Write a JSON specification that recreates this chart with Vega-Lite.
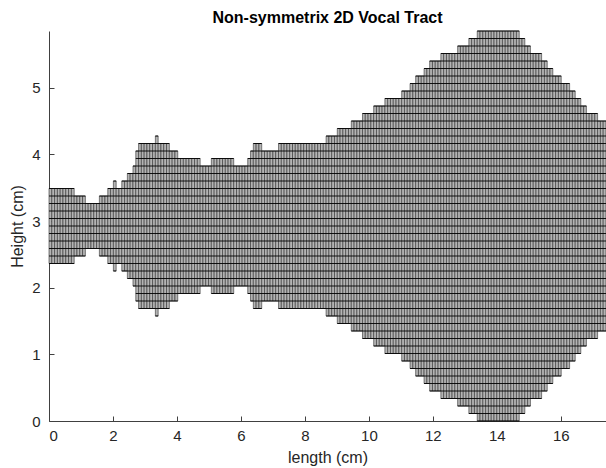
{
  "$schema": "https://vega.github.io/schema/vega-lite/v6.json",
  "width": 557,
  "height": 390,
  "autosize": {"type": "none"},
  "padding": {"left": 49, "top": 31, "right": 0, "bottom": 47},
  "background": "white",
  "title": {"text": "Non-symmetrix 2D Vocal Tract", "fontSize": 16, "fontWeight": "bold", "font": "Liberation Sans", "color": "#000000", "offset": 5, "anchor": "middle"},
  "config": {
    "view": {"stroke": null},
    "axis": {"grid": false, "domainColor": "#404040", "domainWidth": 1, "tickColor": "#404040", "tickSize": -5, "labelFont": "Liberation Sans", "labelFontSize": 15, "labelColor": "#262626", "titleFont": "Liberation Sans", "titleFontSize": 16, "titleFontWeight": "normal", "titleColor": "#262626"}
  },
  "datasets": {
    "columns": [
      {"x0":0,"x1":0.0875,"y0":2.3625,"y1":3.4875},
      {"x0":0.0875,"x1":0.175,"y0":2.3625,"y1":3.4875},
      {"x0":0.175,"x1":0.2625,"y0":2.3625,"y1":3.4875},
      {"x0":0.2625,"x1":0.35,"y0":2.3625,"y1":3.4875},
      {"x0":0.35,"x1":0.4375,"y0":2.3625,"y1":3.4875},
      {"x0":0.4375,"x1":0.525,"y0":2.3625,"y1":3.4875},
      {"x0":0.525,"x1":0.6125,"y0":2.3625,"y1":3.4875},
      {"x0":0.6125,"x1":0.7,"y0":2.3625,"y1":3.4875},
      {"x0":0.7,"x1":0.7875,"y0":2.3625,"y1":3.4875},
      {"x0":0.7875,"x1":0.875,"y0":2.475,"y1":3.375},
      {"x0":0.875,"x1":0.9625,"y0":2.475,"y1":3.375},
      {"x0":0.9625,"x1":1.05,"y0":2.475,"y1":3.375},
      {"x0":1.05,"x1":1.1375,"y0":2.475,"y1":3.375},
      {"x0":1.1375,"x1":1.225,"y0":2.5875,"y1":3.2625},
      {"x0":1.225,"x1":1.3125,"y0":2.5875,"y1":3.2625},
      {"x0":1.3125,"x1":1.4,"y0":2.5875,"y1":3.2625},
      {"x0":1.4,"x1":1.4875,"y0":2.5875,"y1":3.2625},
      {"x0":1.4875,"x1":1.575,"y0":2.5875,"y1":3.2625},
      {"x0":1.575,"x1":1.6625,"y0":2.475,"y1":3.375},
      {"x0":1.6625,"x1":1.75,"y0":2.475,"y1":3.375},
      {"x0":1.75,"x1":1.8375,"y0":2.475,"y1":3.375},
      {"x0":1.8375,"x1":1.925,"y0":2.3625,"y1":3.4875},
      {"x0":1.925,"x1":2.0125,"y0":2.3625,"y1":3.4875},
      {"x0":2.0125,"x1":2.1,"y0":2.25,"y1":3.6},
      {"x0":2.1,"x1":2.1875,"y0":2.3625,"y1":3.4875},
      {"x0":2.1875,"x1":2.275,"y0":2.3625,"y1":3.4875},
      {"x0":2.275,"x1":2.3625,"y0":2.25,"y1":3.6},
      {"x0":2.3625,"x1":2.45,"y0":2.25,"y1":3.6},
      {"x0":2.45,"x1":2.5375,"y0":2.1375,"y1":3.7125},
      {"x0":2.5375,"x1":2.625,"y0":2.1375,"y1":3.7125},
      {"x0":2.625,"x1":2.7125,"y0":2.025,"y1":3.825},
      {"x0":2.7125,"x1":2.8,"y0":1.8,"y1":4.05},
      {"x0":2.8,"x1":2.8875,"y0":1.6875,"y1":4.1625},
      {"x0":2.8875,"x1":2.975,"y0":1.6875,"y1":4.1625},
      {"x0":2.975,"x1":3.0625,"y0":1.6875,"y1":4.1625},
      {"x0":3.0625,"x1":3.15,"y0":1.6875,"y1":4.1625},
      {"x0":3.15,"x1":3.2375,"y0":1.6875,"y1":4.1625},
      {"x0":3.2375,"x1":3.325,"y0":1.6875,"y1":4.1625},
      {"x0":3.325,"x1":3.4125,"y0":1.575,"y1":4.275},
      {"x0":3.4125,"x1":3.5,"y0":1.6875,"y1":4.1625},
      {"x0":3.5,"x1":3.5875,"y0":1.6875,"y1":4.1625},
      {"x0":3.5875,"x1":3.675,"y0":1.6875,"y1":4.1625},
      {"x0":3.675,"x1":3.7625,"y0":1.6875,"y1":4.1625},
      {"x0":3.7625,"x1":3.85,"y0":1.8,"y1":4.05},
      {"x0":3.85,"x1":3.9375,"y0":1.8,"y1":4.05},
      {"x0":3.9375,"x1":4.025,"y0":1.8,"y1":4.05},
      {"x0":4.025,"x1":4.1125,"y0":1.9125,"y1":3.9375},
      {"x0":4.1125,"x1":4.2,"y0":1.9125,"y1":3.9375},
      {"x0":4.2,"x1":4.2875,"y0":1.9125,"y1":3.9375},
      {"x0":4.2875,"x1":4.375,"y0":1.9125,"y1":3.9375},
      {"x0":4.375,"x1":4.4625,"y0":1.9125,"y1":3.9375},
      {"x0":4.4625,"x1":4.55,"y0":1.9125,"y1":3.9375},
      {"x0":4.55,"x1":4.6375,"y0":1.9125,"y1":3.9375},
      {"x0":4.6375,"x1":4.725,"y0":1.9125,"y1":3.9375},
      {"x0":4.725,"x1":4.8125,"y0":2.025,"y1":3.825},
      {"x0":4.8125,"x1":4.9,"y0":2.025,"y1":3.825},
      {"x0":4.9,"x1":4.9875,"y0":2.025,"y1":3.825},
      {"x0":4.9875,"x1":5.075,"y0":2.025,"y1":3.825},
      {"x0":5.075,"x1":5.1625,"y0":1.9125,"y1":3.9375},
      {"x0":5.1625,"x1":5.25,"y0":1.9125,"y1":3.9375},
      {"x0":5.25,"x1":5.3375,"y0":1.9125,"y1":3.9375},
      {"x0":5.3375,"x1":5.425,"y0":1.9125,"y1":3.9375},
      {"x0":5.425,"x1":5.5125,"y0":1.9125,"y1":3.9375},
      {"x0":5.5125,"x1":5.6,"y0":1.9125,"y1":3.9375},
      {"x0":5.6,"x1":5.6875,"y0":1.9125,"y1":3.9375},
      {"x0":5.6875,"x1":5.775,"y0":1.9125,"y1":3.9375},
      {"x0":5.775,"x1":5.8625,"y0":2.025,"y1":3.825},
      {"x0":5.8625,"x1":5.95,"y0":2.025,"y1":3.825},
      {"x0":5.95,"x1":6.0375,"y0":2.025,"y1":3.825},
      {"x0":6.0375,"x1":6.125,"y0":2.025,"y1":3.825},
      {"x0":6.125,"x1":6.2125,"y0":2.025,"y1":3.825},
      {"x0":6.2125,"x1":6.3,"y0":1.9125,"y1":3.9375},
      {"x0":6.3,"x1":6.3875,"y0":1.8,"y1":4.05},
      {"x0":6.3875,"x1":6.475,"y0":1.6875,"y1":4.1625},
      {"x0":6.475,"x1":6.5625,"y0":1.6875,"y1":4.1625},
      {"x0":6.5625,"x1":6.65,"y0":1.6875,"y1":4.1625},
      {"x0":6.65,"x1":6.7375,"y0":1.8,"y1":4.05},
      {"x0":6.7375,"x1":6.825,"y0":1.8,"y1":4.05},
      {"x0":6.825,"x1":6.9125,"y0":1.8,"y1":4.05},
      {"x0":6.9125,"x1":7.0,"y0":1.8,"y1":4.05},
      {"x0":7.0,"x1":7.0875,"y0":1.8,"y1":4.05},
      {"x0":7.0875,"x1":7.175,"y0":1.8,"y1":4.05},
      {"x0":7.175,"x1":7.2625,"y0":1.6875,"y1":4.1625},
      {"x0":7.2625,"x1":7.35,"y0":1.6875,"y1":4.1625},
      {"x0":7.35,"x1":7.4375,"y0":1.6875,"y1":4.1625},
      {"x0":7.4375,"x1":7.525,"y0":1.6875,"y1":4.1625},
      {"x0":7.525,"x1":7.6125,"y0":1.6875,"y1":4.1625},
      {"x0":7.6125,"x1":7.7,"y0":1.6875,"y1":4.1625},
      {"x0":7.7,"x1":7.7875,"y0":1.6875,"y1":4.1625},
      {"x0":7.7875,"x1":7.875,"y0":1.6875,"y1":4.1625},
      {"x0":7.875,"x1":7.9625,"y0":1.6875,"y1":4.1625},
      {"x0":7.9625,"x1":8.05,"y0":1.6875,"y1":4.1625},
      {"x0":8.05,"x1":8.1375,"y0":1.6875,"y1":4.1625},
      {"x0":8.1375,"x1":8.225,"y0":1.6875,"y1":4.1625},
      {"x0":8.225,"x1":8.3125,"y0":1.6875,"y1":4.1625},
      {"x0":8.3125,"x1":8.4,"y0":1.6875,"y1":4.1625},
      {"x0":8.4,"x1":8.4875,"y0":1.6875,"y1":4.1625},
      {"x0":8.4875,"x1":8.575,"y0":1.6875,"y1":4.1625},
      {"x0":8.575,"x1":8.6625,"y0":1.6875,"y1":4.1625},
      {"x0":8.6625,"x1":8.75,"y0":1.575,"y1":4.275},
      {"x0":8.75,"x1":8.8375,"y0":1.575,"y1":4.275},
      {"x0":8.8375,"x1":8.925,"y0":1.575,"y1":4.275},
      {"x0":8.925,"x1":9.0125,"y0":1.575,"y1":4.275},
      {"x0":9.0125,"x1":9.1,"y0":1.4625,"y1":4.3875},
      {"x0":9.1,"x1":9.1875,"y0":1.4625,"y1":4.3875},
      {"x0":9.1875,"x1":9.275,"y0":1.4625,"y1":4.3875},
      {"x0":9.275,"x1":9.3625,"y0":1.4625,"y1":4.3875},
      {"x0":9.3625,"x1":9.45,"y0":1.4625,"y1":4.3875},
      {"x0":9.45,"x1":9.5375,"y0":1.35,"y1":4.5},
      {"x0":9.5375,"x1":9.625,"y0":1.35,"y1":4.5},
      {"x0":9.625,"x1":9.7125,"y0":1.35,"y1":4.5},
      {"x0":9.7125,"x1":9.8,"y0":1.35,"y1":4.5},
      {"x0":9.8,"x1":9.8875,"y0":1.2375,"y1":4.6125},
      {"x0":9.8875,"x1":9.975,"y0":1.2375,"y1":4.6125},
      {"x0":9.975,"x1":10.0625,"y0":1.2375,"y1":4.6125},
      {"x0":10.0625,"x1":10.15,"y0":1.2375,"y1":4.6125},
      {"x0":10.15,"x1":10.2375,"y0":1.125,"y1":4.725},
      {"x0":10.2375,"x1":10.325,"y0":1.125,"y1":4.725},
      {"x0":10.325,"x1":10.4125,"y0":1.125,"y1":4.725},
      {"x0":10.4125,"x1":10.5,"y0":1.125,"y1":4.725},
      {"x0":10.5,"x1":10.5875,"y0":1.0125,"y1":4.8375},
      {"x0":10.5875,"x1":10.675,"y0":1.0125,"y1":4.8375},
      {"x0":10.675,"x1":10.7625,"y0":1.0125,"y1":4.8375},
      {"x0":10.7625,"x1":10.85,"y0":1.0125,"y1":4.8375},
      {"x0":10.85,"x1":10.9375,"y0":1.0125,"y1":4.8375},
      {"x0":10.9375,"x1":11.025,"y0":1.0125,"y1":4.8375},
      {"x0":11.025,"x1":11.1125,"y0":0.9,"y1":4.95},
      {"x0":11.1125,"x1":11.2,"y0":0.9,"y1":4.95},
      {"x0":11.2,"x1":11.2875,"y0":0.9,"y1":4.95},
      {"x0":11.2875,"x1":11.375,"y0":0.7875,"y1":5.0625},
      {"x0":11.375,"x1":11.4625,"y0":0.7875,"y1":5.0625},
      {"x0":11.4625,"x1":11.55,"y0":0.675,"y1":5.175},
      {"x0":11.55,"x1":11.6375,"y0":0.675,"y1":5.175},
      {"x0":11.6375,"x1":11.725,"y0":0.675,"y1":5.175},
      {"x0":11.725,"x1":11.8125,"y0":0.5625,"y1":5.2875},
      {"x0":11.8125,"x1":11.9,"y0":0.5625,"y1":5.2875},
      {"x0":11.9,"x1":11.9875,"y0":0.45,"y1":5.4},
      {"x0":11.9875,"x1":12.075,"y0":0.45,"y1":5.4},
      {"x0":12.075,"x1":12.1625,"y0":0.45,"y1":5.4},
      {"x0":12.1625,"x1":12.25,"y0":0.45,"y1":5.4},
      {"x0":12.25,"x1":12.3375,"y0":0.3375,"y1":5.5125},
      {"x0":12.3375,"x1":12.425,"y0":0.3375,"y1":5.5125},
      {"x0":12.425,"x1":12.5125,"y0":0.3375,"y1":5.5125},
      {"x0":12.5125,"x1":12.6,"y0":0.3375,"y1":5.5125},
      {"x0":12.6,"x1":12.6875,"y0":0.3375,"y1":5.5125},
      {"x0":12.6875,"x1":12.775,"y0":0.3375,"y1":5.5125},
      {"x0":12.775,"x1":12.8625,"y0":0.225,"y1":5.625},
      {"x0":12.8625,"x1":12.95,"y0":0.225,"y1":5.625},
      {"x0":12.95,"x1":13.0375,"y0":0.225,"y1":5.625},
      {"x0":13.0375,"x1":13.125,"y0":0.225,"y1":5.625},
      {"x0":13.125,"x1":13.2125,"y0":0.1125,"y1":5.7375},
      {"x0":13.2125,"x1":13.3,"y0":0.1125,"y1":5.7375},
      {"x0":13.3,"x1":13.3875,"y0":0.1125,"y1":5.7375},
      {"x0":13.3875,"x1":13.475,"y0":0,"y1":5.85},
      {"x0":13.475,"x1":13.5625,"y0":0,"y1":5.85},
      {"x0":13.5625,"x1":13.65,"y0":0,"y1":5.85},
      {"x0":13.65,"x1":13.7375,"y0":0,"y1":5.85},
      {"x0":13.7375,"x1":13.825,"y0":0,"y1":5.85},
      {"x0":13.825,"x1":13.9125,"y0":0,"y1":5.85},
      {"x0":13.9125,"x1":14.0,"y0":0,"y1":5.85},
      {"x0":14.0,"x1":14.0875,"y0":0,"y1":5.85},
      {"x0":14.0875,"x1":14.175,"y0":0,"y1":5.85},
      {"x0":14.175,"x1":14.2625,"y0":0,"y1":5.85},
      {"x0":14.2625,"x1":14.35,"y0":0,"y1":5.85},
      {"x0":14.35,"x1":14.4375,"y0":0,"y1":5.85},
      {"x0":14.4375,"x1":14.525,"y0":0,"y1":5.85},
      {"x0":14.525,"x1":14.6125,"y0":0,"y1":5.85},
      {"x0":14.6125,"x1":14.7,"y0":0,"y1":5.85},
      {"x0":14.7,"x1":14.7875,"y0":0.1125,"y1":5.7375},
      {"x0":14.7875,"x1":14.875,"y0":0.1125,"y1":5.7375},
      {"x0":14.875,"x1":14.9625,"y0":0.225,"y1":5.625},
      {"x0":14.9625,"x1":15.05,"y0":0.225,"y1":5.625},
      {"x0":15.05,"x1":15.1375,"y0":0.3375,"y1":5.5125},
      {"x0":15.1375,"x1":15.225,"y0":0.3375,"y1":5.5125},
      {"x0":15.225,"x1":15.3125,"y0":0.3375,"y1":5.5125},
      {"x0":15.3125,"x1":15.4,"y0":0.3375,"y1":5.5125},
      {"x0":15.4,"x1":15.4875,"y0":0.45,"y1":5.4},
      {"x0":15.4875,"x1":15.575,"y0":0.45,"y1":5.4},
      {"x0":15.575,"x1":15.6625,"y0":0.5625,"y1":5.2875},
      {"x0":15.6625,"x1":15.75,"y0":0.5625,"y1":5.2875},
      {"x0":15.75,"x1":15.8375,"y0":0.675,"y1":5.175},
      {"x0":15.8375,"x1":15.925,"y0":0.675,"y1":5.175},
      {"x0":15.925,"x1":16.0125,"y0":0.675,"y1":5.175},
      {"x0":16.0125,"x1":16.1,"y0":0.7875,"y1":5.0625},
      {"x0":16.1,"x1":16.1875,"y0":0.7875,"y1":5.0625},
      {"x0":16.1875,"x1":16.275,"y0":0.7875,"y1":5.0625},
      {"x0":16.275,"x1":16.3625,"y0":0.9,"y1":4.95},
      {"x0":16.3625,"x1":16.45,"y0":0.9,"y1":4.95},
      {"x0":16.45,"x1":16.5375,"y0":1.0125,"y1":4.8375},
      {"x0":16.5375,"x1":16.625,"y0":1.0125,"y1":4.8375},
      {"x0":16.625,"x1":16.7125,"y0":1.125,"y1":4.725},
      {"x0":16.7125,"x1":16.8,"y0":1.125,"y1":4.725},
      {"x0":16.8,"x1":16.8875,"y0":1.2375,"y1":4.6125},
      {"x0":16.8875,"x1":16.975,"y0":1.2375,"y1":4.6125},
      {"x0":16.975,"x1":17.0625,"y0":1.2375,"y1":4.6125},
      {"x0":17.0625,"x1":17.15,"y0":1.2375,"y1":4.6125},
      {"x0":17.15,"x1":17.2375,"y0":1.35,"y1":4.5},
      {"x0":17.2375,"x1":17.325,"y0":1.35,"y1":4.5},
      {"x0":17.325,"x1":17.4125,"y0":1.35,"y1":4.5}
    ],
    "rows": [
      {"y":2.925,"x0":0,"x1":17.4125},
      {"y":3.0375,"x0":0,"x1":17.4125},
      {"y":2.8125,"x0":0,"x1":17.4125},
      {"y":3.15,"x0":0,"x1":17.4125},
      {"y":2.7,"x0":0,"x1":17.4125},
      {"y":3.2625,"x0":0,"x1":17.4125},
      {"y":2.5875,"x0":0,"x1":17.4125},
      {"y":3.375,"x0":0,"x1":1.1375},
      {"y":3.375,"x0":1.575,"x1":17.4125},
      {"y":2.475,"x0":0,"x1":1.1375},
      {"y":2.475,"x0":1.575,"x1":17.4125},
      {"y":3.4875,"x0":0,"x1":0.7875},
      {"y":3.4875,"x0":1.8375,"x1":17.4125},
      {"y":2.3625,"x0":0,"x1":0.7875},
      {"y":2.3625,"x0":1.8375,"x1":17.4125},
      {"y":3.6,"x0":2.0125,"x1":2.1},
      {"y":3.6,"x0":2.275,"x1":17.4125},
      {"y":2.25,"x0":2.0125,"x1":2.1},
      {"y":2.25,"x0":2.275,"x1":17.4125},
      {"y":3.7125,"x0":2.45,"x1":17.4125},
      {"y":2.1375,"x0":2.45,"x1":17.4125},
      {"y":3.825,"x0":2.625,"x1":17.4125},
      {"y":2.025,"x0":2.625,"x1":17.4125},
      {"y":3.9375,"x0":2.7125,"x1":4.725},
      {"y":3.9375,"x0":5.075,"x1":5.775},
      {"y":3.9375,"x0":6.2125,"x1":17.4125},
      {"y":1.9125,"x0":2.7125,"x1":4.725},
      {"y":1.9125,"x0":5.075,"x1":5.775},
      {"y":1.9125,"x0":6.2125,"x1":17.4125},
      {"y":4.05,"x0":2.7125,"x1":4.025},
      {"y":4.05,"x0":6.3,"x1":17.4125},
      {"y":1.8,"x0":2.7125,"x1":4.025},
      {"y":1.8,"x0":6.3,"x1":17.4125},
      {"y":4.1625,"x0":2.8,"x1":3.7625},
      {"y":4.1625,"x0":6.3875,"x1":6.65},
      {"y":4.1625,"x0":7.175,"x1":17.4125},
      {"y":1.6875,"x0":2.8,"x1":3.7625},
      {"y":1.6875,"x0":6.3875,"x1":6.65},
      {"y":1.6875,"x0":7.175,"x1":17.4125},
      {"y":4.275,"x0":3.325,"x1":3.4125},
      {"y":4.275,"x0":8.6625,"x1":17.4125},
      {"y":1.575,"x0":3.325,"x1":3.4125},
      {"y":1.575,"x0":8.6625,"x1":17.4125},
      {"y":4.3875,"x0":9.0125,"x1":17.4125},
      {"y":1.4625,"x0":9.0125,"x1":17.4125},
      {"y":4.5,"x0":9.45,"x1":17.4125},
      {"y":1.35,"x0":9.45,"x1":17.4125},
      {"y":4.6125,"x0":9.8,"x1":17.15},
      {"y":1.2375,"x0":9.8,"x1":17.15},
      {"y":4.725,"x0":10.15,"x1":16.8},
      {"y":1.125,"x0":10.15,"x1":16.8},
      {"y":4.8375,"x0":10.5,"x1":16.625},
      {"y":1.0125,"x0":10.5,"x1":16.625},
      {"y":4.95,"x0":11.025,"x1":16.45},
      {"y":0.9,"x0":11.025,"x1":16.45},
      {"y":5.0625,"x0":11.2875,"x1":16.275},
      {"y":0.7875,"x0":11.2875,"x1":16.275},
      {"y":5.175,"x0":11.4625,"x1":16.0125},
      {"y":0.675,"x0":11.4625,"x1":16.0125},
      {"y":5.2875,"x0":11.725,"x1":15.75},
      {"y":0.5625,"x0":11.725,"x1":15.75},
      {"y":5.4,"x0":11.9,"x1":15.575},
      {"y":0.45,"x0":11.9,"x1":15.575},
      {"y":5.5125,"x0":12.25,"x1":15.4},
      {"y":0.3375,"x0":12.25,"x1":15.4},
      {"y":5.625,"x0":12.775,"x1":15.05},
      {"y":0.225,"x0":12.775,"x1":15.05},
      {"y":5.7375,"x0":13.125,"x1":14.875},
      {"y":0.1125,"x0":13.125,"x1":14.875},
      {"y":5.85,"x0":13.3875,"x1":14.7},
      {"y":0,"x0":13.3875,"x1":14.7}
    ]
  },
  "layer": [
    {
      "data": {"name": "columns"},
      "mark": {"type": "rect", "fill": "#b4b4b4", "stroke": "#303030", "strokeWidth": 0.6},
      "encoding": {
        "x": {"field": "x0", "type": "quantitative", "scale": {"domain": [0, 17.4125], "nice": false, "zero": false}, "axis": {"title": "length (cm)", "values": [0, 2, 4, 6, 8, 10, 12, 14, 16], "format": "d", "labelPadding": 12, "titlePadding": 6}},
        "x2": {"field": "x1"},
        "y": {"field": "y0", "type": "quantitative", "scale": {"domain": [0, 5.85], "nice": false, "zero": false}, "axis": {"title": "Height (cm)", "values": [0, 1, 2, 3, 4, 5], "format": "d", "labelPadding": 14, "titlePadding": 6}},
        "y2": {"field": "y1"}
      }
    },
    {
      "data": {"name": "rows"},
      "mark": {"type": "rule", "stroke": "#000000", "strokeWidth": 0.9},
      "encoding": {
        "x": {"field": "x0", "type": "quantitative"},
        "x2": {"field": "x1"},
        "y": {"field": "y", "type": "quantitative"}
      }
    }
  ]
}
